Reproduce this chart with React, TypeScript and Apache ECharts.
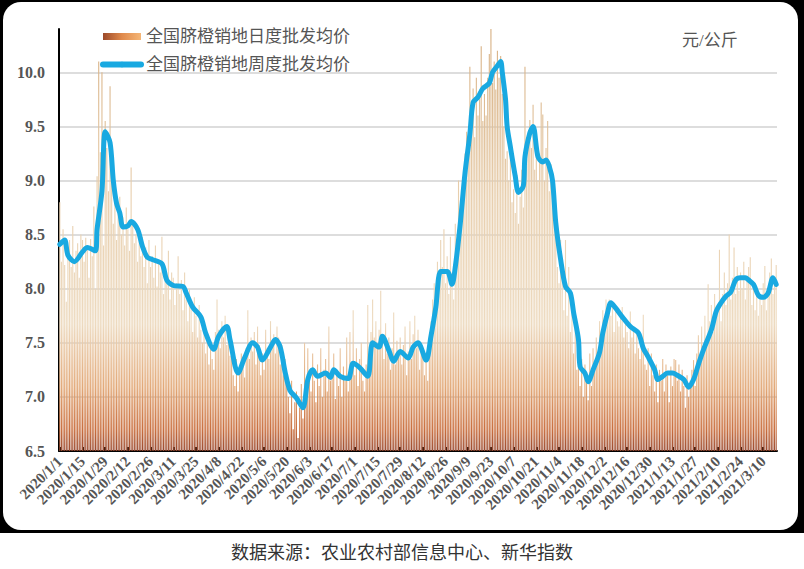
import React, { useEffect, useRef } from 'react';
import * as echarts from 'echarts';

const DAILY_NAME = '全国脐橙销地日度批发均价';
const WEEKLY_NAME = '全国脐橙销地周度批发均价';
const UNIT_TEXT = '元/公斤';
const SOURCE_TEXT = '数据来源：农业农村部信息中心、新华指数';

// daily categories 2020/1/1 .. 2021/3/18
const DAY_COUNT = 443;
const categories: string[] = [];
for (let i = 0; i < DAY_COUNT; i++) {
  const d = new Date(2020, 0, 1 + i);
  categories.push(`${d.getFullYear()}/${d.getMonth() + 1}/${d.getDate()}`);
}

// daily wholesale price (yuan/kg), one row per 14 days
const dailyPrices: number[] = [
  8.80, 8.25, 8.55, 8.22, 7.88, 8.30, 8.45, 8.20, 8.58, 8.15, 8.35, 8.42, 8.10, 8.50,
  8.45, 8.25, 8.47, 8.38, 8.10, 8.46, 8.30, 8.76, 8.00, 9.04, 10.10, 9.26, 10.00, 8.40,
  9.55, 9.30, 8.90, 9.87, 9.20, 8.60, 8.95, 8.45, 8.70, 8.85, 8.50, 8.66, 8.40, 8.75,
  8.55, 8.35, 9.12, 8.60, 8.42, 8.50, 8.25, 8.55, 8.30, 8.48, 8.20, 8.38, 8.05, 8.45,
  8.20, 8.30, 8.10, 8.40, 8.02, 8.25, 8.15, 8.48, 7.95, 8.20, 8.05, 8.35, 7.90, 8.15,
  8.10, 7.85, 8.05, 8.30, 7.95, 8.08, 7.80, 8.15, 7.90, 7.70, 8.00, 7.85, 7.60, 7.92,
  7.75, 7.55, 7.85, 7.62, 7.50, 7.70, 7.40, 7.58, 7.30, 7.52, 7.35, 7.25, 7.60, 7.90,
  7.62, 7.45, 7.70, 7.55, 7.75, 7.48, 7.60, 7.38, 7.50, 7.20, 7.10, 7.35, 7.05, 7.25,
  7.40, 7.30, 7.18, 7.45, 7.80, 7.35, 7.55, 7.42, 7.60, 7.30, 7.65, 7.48, 7.20, 7.40,
  7.25, 7.62, 7.45, 7.35, 7.70, 7.50, 7.58, 7.40, 7.65, 7.55, 7.30, 7.48, 7.20, 7.35,
  7.10, 7.00, 6.85, 7.15, 6.70, 6.95, 7.05, 6.62, 6.90, 7.12, 6.80, 7.50, 7.00, 7.45,
  7.20, 7.05, 7.40, 7.15, 6.95, 7.30, 7.10, 7.45, 7.00, 7.25, 7.35, 7.05, 7.65, 7.15,
  7.20, 7.40, 6.98, 7.25, 7.10, 7.45, 7.00, 7.28, 7.15, 7.55, 7.05, 7.60, 7.30, 7.80,
  7.20, 7.45, 7.10, 7.35, 7.50, 7.15, 7.05, 7.30, 7.85, 7.40, 7.60, 7.90, 7.55, 7.70,
  7.45, 7.62, 7.98, 7.50, 7.35, 7.68, 7.40, 7.55, 7.25, 7.45, 7.78, 7.30, 7.52, 7.38,
  7.55, 7.30, 7.48, 7.65, 7.20, 7.42, 7.70, 7.35, 7.58, 7.75, 7.45, 7.62, 7.25, 7.50,
  7.40, 7.20, 7.35, 7.15, 7.55, 7.70, 7.90, 8.05, 7.75, 8.25, 8.10, 8.45, 8.20, 8.55,
  8.05, 8.30, 7.95, 8.48, 8.15, 7.90, 8.60, 8.35, 9.00, 8.50, 8.80, 8.95, 9.25, 9.45,
  9.30, 10.05, 9.50, 9.85, 9.40, 9.95, 9.60, 9.75, 10.24, 9.55, 9.80, 9.60, 9.95, 10.17,
  10.41, 9.90, 10.10, 9.84, 10.20, 9.95, 10.15, 9.80, 9.50, 9.20, 9.27, 9.00, 9.35, 8.80,
  8.92, 8.70, 9.05, 8.60, 8.85, 9.10, 8.75, 10.05, 9.20, 9.40, 9.56, 9.30, 9.70, 9.10,
  9.35, 9.00, 9.25, 9.72, 9.61, 9.00, 9.30, 9.55, 8.90, 9.15, 8.80, 9.00, 8.50, 8.20,
  8.05, 8.45, 8.15, 7.80, 8.45, 7.75, 8.20, 7.60, 7.95, 7.40, 7.70, 7.25, 7.55, 7.10,
  7.35, 7.00, 7.30, 7.15, 6.97, 7.40, 7.10, 7.45, 7.25, 7.55, 7.35, 7.70, 7.50, 7.80,
  7.65, 7.90, 7.70, 7.90, 7.75, 7.85, 7.60, 7.80, 7.70, 7.65, 7.75, 7.83, 7.55, 7.70,
  7.60, 7.45, 7.79, 7.55, 7.65, 7.40, 7.60, 7.45, 7.35, 7.55, 7.76, 7.30, 7.25, 7.45,
  7.10, 7.40, 7.20, 7.05, 7.30, 6.95, 7.25, 7.15, 7.35, 7.05, 7.30, 7.20, 6.95, 7.28,
  7.10, 7.35, 7.34, 7.15, 7.30, 7.05, 7.25, 7.10, 6.90, 7.20, 7.00, 7.15, 7.25, 7.34,
  7.10, 7.40, 7.57, 7.30, 7.65, 7.45, 7.75, 7.50, 8.04, 7.70, 7.85, 7.60, 7.95, 7.75,
  7.80, 8.36, 7.70, 7.95, 8.15, 7.85, 8.05, 8.50, 7.90, 8.10, 8.38, 7.95, 8.20, 7.98,
  8.15, 8.00, 8.25, 7.90, 8.10, 8.20, 8.29, 7.85, 8.05, 7.80, 8.02, 7.75, 7.95, 7.85,
  8.05, 8.21, 7.80, 8.00, 8.15, 8.28, 7.95, 8.10, 8.22,
];

// weekly (rolling) average price: day index and value
const weeklyDays: number[] = [
  0, 3, 5, 9, 14, 17, 22, 23, 26, 28, 31, 33, 35, 37, 39, 42, 44, 48, 51, 54,
  57, 63, 66, 70, 76, 78, 82, 87, 90, 95, 98, 103, 105, 110, 114, 119, 122, 125, 130, 133,
  136, 139, 142, 146, 150, 153, 156, 159, 164, 167, 169, 173, 178, 181, 185, 190, 193, 197, 199, 203,
  206, 210, 215, 218, 221, 226, 229, 232, 235, 239, 242, 244, 247, 250, 253, 255, 258, 261, 265, 267,
  270, 272, 273, 275, 276, 278, 281, 283, 286, 287, 290, 292, 295, 298, 300, 302, 304, 306, 309, 312,
  315, 317, 320, 321, 324, 326, 329, 333, 335, 338, 340, 343, 347, 352, 357, 360, 363, 367, 369, 372,
  375, 378, 381, 385, 388, 391, 394, 397, 402, 405, 408, 411, 414, 417, 420, 423, 425, 428, 431, 434,
  437, 440, 442,
];
const weeklyPrices: number[] = [
  8.41, 8.45, 8.31, 8.25, 8.34, 8.38, 8.35, 8.55, 8.90, 9.45, 9.35, 9.00, 8.79, 8.70, 8.57, 8.58, 8.62, 8.55, 8.39, 8.29,
  8.27, 8.23, 8.08, 8.03, 8.02, 7.96, 7.83, 7.74, 7.59, 7.44, 7.56, 7.65, 7.53, 7.22, 7.36, 7.50, 7.46, 7.34, 7.46, 7.53,
  7.46, 7.23, 7.06, 6.99, 6.90, 7.16, 7.25, 7.19, 7.22, 7.18, 7.25, 7.19, 7.17, 7.31, 7.27, 7.19, 7.50, 7.46, 7.56, 7.43,
  7.33, 7.42, 7.36, 7.46, 7.50, 7.34, 7.56, 7.83, 8.16, 8.16, 8.04, 8.20, 8.59, 9.07, 9.43, 9.72, 9.77, 9.85, 9.90, 10.00,
  10.06, 10.10, 10.00, 9.75, 9.50, 9.31, 9.04, 8.89, 8.95, 9.22, 9.44, 9.50, 9.22, 9.17, 9.19, 9.13, 9.00, 8.61, 8.27, 8.02,
  7.96, 7.78, 7.53, 7.28, 7.22, 7.14, 7.25, 7.41, 7.59, 7.78, 7.87, 7.82, 7.74, 7.65, 7.59, 7.45, 7.37, 7.25, 7.16, 7.19,
  7.22, 7.22, 7.20, 7.16, 7.09, 7.16, 7.30, 7.43, 7.62, 7.79, 7.87, 7.93, 7.97, 8.08, 8.10, 8.10, 8.08, 8.04, 7.94, 7.92,
  7.96, 8.10, 8.04,
];

const Y_MIN = 6.5;
const Y_MAX = 10.4;
const Y_STEP = 0.5;

const SERIF = "'Liberation Serif', 'Noto Sans CJK SC', serif";
const SANS_CJK = "'Noto Sans CJK SC', sans-serif";

export default function App() {
  const ref = useRef<HTMLDivElement>(null);
  useEffect(() => {
    if (!ref.current) return;
    const chart = echarts.init(ref.current, undefined, { renderer: 'svg' });
    const barGradient = new echarts.graphic.LinearGradient(0, 29, 0, 451, [
      { offset: 0, color: '#d6ae80' },
      { offset: 0.4, color: '#e8cfae' },
      { offset: 0.7, color: '#eddabf' },
      { offset: 0.85, color: '#e2a877' },
      { offset: 0.95, color: '#c96e3e' },
      { offset: 1, color: '#9a4a30' },
    ], true);
    const legendGradient = new echarts.graphic.LinearGradient(0, 0, 1, 0, [
      { offset: 0, color: '#9c4a2a' },
      { offset: 0.5, color: '#e08a4c' },
      { offset: 1, color: '#f5b676' },
    ]);
    const option: any = {
      animation: false,
      graphic: [
        { type: 'rect', z: -100, shape: { x: 0, y: 0, width: 804, height: 533 }, style: { fill: '#000' }, silent: true },
        { type: 'rect', z: -99, shape: { x: 3, y: 2, width: 795, height: 528, r: 18 }, style: { fill: '#fff' }, silent: true },
        { type: 'text', x: 682, y: 40, style: { text: UNIT_TEXT, font: `17px ${SERIF}`, fill: '#555', textVerticalAlign: 'middle' } },
        { type: 'text', x: 402, y: 551, style: { text: SOURCE_TEXT, font: `18px ${SANS_CJK}`, fill: '#333', textAlign: 'center', textVerticalAlign: 'middle' } },
      ],
      legend: {
        orient: 'vertical',
        left: 95,
        top: 23,
        itemWidth: 38,
        itemHeight: 7,
        itemGap: 11,
        textStyle: { color: '#555', fontSize: 17, fontFamily: SERIF },
        data: [
          { name: DAILY_NAME, icon: 'rect', itemStyle: { color: legendGradient } },
          { name: WEEKLY_NAME, lineStyle: { width: 6, color: '#19a9e1', cap: 'round' } },
        ],
      },
      grid: { left: 59, right: 27, top: 29, bottom: 118 },
      xAxis: {
        type: 'category',
        data: categories,
        boundaryGap: true,
        axisLine: { show: true, lineStyle: { color: '#000', width: 2 } },
        axisTick: { show: true, inside: true, interval: 13, length: 4, alignWithLabel: true, lineStyle: { color: '#000', width: 2 } },
        axisLabel: { interval: 13, rotate: 45, color: '#555', fontFamily: SERIF, fontWeight: 'bold', fontSize: 15, margin: 8 },
        splitLine: { show: false },
      },
      yAxis: {
        type: 'value',
        min: Y_MIN,
        max: Y_MAX,
        interval: Y_STEP,
        axisLine: { show: true, lineStyle: { color: '#000', width: 2 } },
        axisTick: { show: false },
        splitLine: { show: true, showMinLine: false, showMaxLine: false, lineStyle: { color: '#d2d2d2', width: 1.5 } },
        axisLabel: {
          formatter: (v: number) => (v > 10.2 ? '' : v.toFixed(1)),
          color: '#555', fontFamily: SERIF, fontWeight: 'bold', fontSize: 16, margin: 14,
        },
      },
      series: [
        {
          name: DAILY_NAME,
          type: 'bar',
          data: dailyPrices,
          barWidth: 1.1,
          clip: true,
          itemStyle: { color: barGradient },
          z: 2,
        },
        {
          name: WEEKLY_NAME,
          type: 'line',
          data: weeklyDays.map((d, i) => [d, weeklyPrices[i]]),
          symbol: 'none',
          smooth: 0.3,
          lineStyle: { color: '#19a9e1', width: 5, cap: 'round', join: 'round' },
          itemStyle: { color: '#19a9e1' },
          z: 3,
        },
      ],
    };
    chart.setOption(option);
    return () => chart.dispose();
  }, []);
  return (
    <div
      ref={ref}
      style={{ position: 'absolute', left: 0, top: 0, width: 804, height: 569, background: '#fff' }}
    />
  );
}
